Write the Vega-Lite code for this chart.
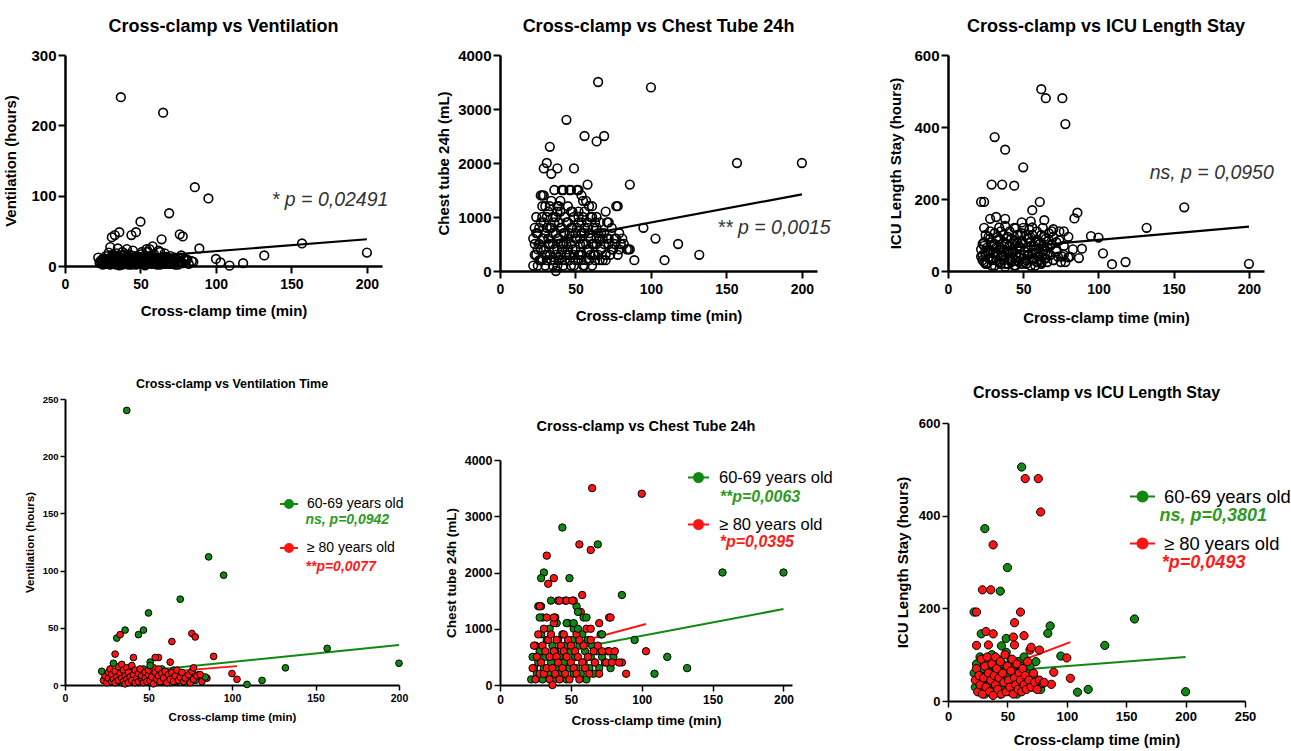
{
"$schema":"https://vega.github.io/schema/vega-lite/v6.json",
"autosize":{"type":"none"},
"padding":{"left":65,"top":55,"right":1226,"bottom":696},
"background":"white",
"config":{
 "font":"Liberation Sans",
 "view":{"stroke":null},
 "axis":{"grid":false,"domainColor":"black","tickColor":"black","labelColor":"black","titleColor":"black","labelFont":"Liberation Sans","titleFont":"Liberation Sans","labelFontWeight":"bold","titleFontWeight":"bold","labelFlush":false,"labelOverlap":false},
 "title":{"font":"Liberation Sans","fontWeight":"bold","color":"black","anchor":"middle","frame":"group"},
 "legend":{"labelFont":"Liberation Sans","labelColor":"black","symbolStrokeWidth":2,"symbolOpacity":1}
},
"datasets":{
"fits":[
{"panel":"vent_all","group":"all","clamp":22,"value":8},{"panel":"vent_all","group":"all","clamp":200,"value":38},
{"panel":"chest_all","group":"all","clamp":22,"value":490},{"panel":"chest_all","group":"all","clamp":200,"value":1420},
{"panel":"icu_all","group":"all","clamp":22,"value":58},{"panel":"icu_all","group":"all","clamp":200,"value":123},
{"panel":"vent_age","group":"60-69 years old","clamp":22,"value":8.6},{"panel":"vent_age","group":"60-69 years old","clamp":200,"value":35},
{"panel":"vent_age","group":"≥ 80 years old","clamp":22,"value":7},{"panel":"vent_age","group":"≥ 80 years old","clamp":103,"value":16.5},
{"panel":"chest_age","group":"60-69 years old","clamp":22,"value":504},{"panel":"chest_age","group":"60-69 years old","clamp":200,"value":1350},
{"panel":"chest_age","group":"≥ 80 years old","clamp":22,"value":540},{"panel":"chest_age","group":"≥ 80 years old","clamp":103,"value":1084},
{"panel":"icu_age","group":"60-69 years old","clamp":22,"value":60},{"panel":"icu_age","group":"60-69 years old","clamp":200,"value":95},
{"panel":"icu_age","group":"≥ 80 years old","clamp":22,"value":49},{"panel":"icu_age","group":"≥ 80 years old","clamp":103,"value":127}
],
"vent":[
{"clamp":23,"value":6,"group":"70-79 years old"},{"clamp":25,"value":10,"group":"70-79 years old"},{"clamp":27,"value":4,"group":"70-79 years old"},{"clamp":29,"value":8,"group":"70-79 years old"},{"clamp":31,"value":13,"group":"70-79 years old"},{"clamp":33,"value":5,"group":"70-79 years old"},{"clamp":35,"value":9,"group":"70-79 years old"},{"clamp":37,"value":3,"group":"70-79 years old"},{"clamp":39,"value":11,"group":"70-79 years old"},{"clamp":41,"value":6,"group":"70-79 years old"},{"clamp":43,"value":16,"group":"70-79 years old"},{"clamp":45,"value":4,"group":"70-79 years old"},{"clamp":47,"value":9,"group":"70-79 years old"},{"clamp":49,"value":12,"group":"70-79 years old"},{"clamp":51,"value":6,"group":"70-79 years old"},{"clamp":53,"value":3,"group":"70-79 years old"},{"clamp":55,"value":10,"group":"70-79 years old"},{"clamp":57,"value":7,"group":"70-79 years old"},{"clamp":59,"value":17,"group":"70-79 years old"},{"clamp":61,"value":4,"group":"70-79 years old"},{"clamp":63,"value":9,"group":"70-79 years old"},{"clamp":65,"value":6,"group":"70-79 years old"},{"clamp":67,"value":11,"group":"70-79 years old"},{"clamp":69,"value":3,"group":"70-79 years old"},{"clamp":71,"value":8,"group":"70-79 years old"},{"clamp":73,"value":12,"group":"70-79 years old"},{"clamp":76,"value":7,"group":"70-79 years old"},{"clamp":79,"value":10,"group":"70-79 years old"},{"clamp":45,"value":22,"group":"70-79 years old"},{"clamp":58,"value":28,"group":"70-79 years old"},{"clamp":38,"value":20,"group":"70-79 years old"},{"clamp":66,"value":18,"group":"70-79 years old"},{"clamp":70,"value":14,"group":"70-79 years old"},{"clamp":55,"value":20,"group":"70-79 years old"},{"clamp":35,"value":25,"group":"70-79 years old"},{"clamp":62,"value":22,"group":"70-79 years old"},{"clamp":65,"value":218,"group":"70-79 years old"},
{"clamp":24,"value":5,"group":"60-69 years old"},{"clamp":25,"value":9,"group":"60-69 years old"},{"clamp":27,"value":3,"group":"60-69 years old"},{"clamp":28,"value":7,"group":"60-69 years old"},{"clamp":30,"value":11,"group":"60-69 years old"},{"clamp":31,"value":4,"group":"60-69 years old"},{"clamp":32,"value":8,"group":"60-69 years old"},{"clamp":33,"value":13,"group":"60-69 years old"},{"clamp":34,"value":2,"group":"60-69 years old"},{"clamp":35,"value":6,"group":"60-69 years old"},{"clamp":36,"value":10,"group":"60-69 years old"},{"clamp":38,"value":3,"group":"60-69 years old"},{"clamp":39,"value":15,"group":"60-69 years old"},{"clamp":40,"value":7,"group":"60-69 years old"},{"clamp":41,"value":12,"group":"60-69 years old"},{"clamp":42,"value":4,"group":"60-69 years old"},{"clamp":43,"value":9,"group":"60-69 years old"},{"clamp":44,"value":2,"group":"60-69 years old"},{"clamp":45,"value":6,"group":"60-69 years old"},{"clamp":46,"value":11,"group":"60-69 years old"},{"clamp":47,"value":14,"group":"60-69 years old"},{"clamp":48,"value":3,"group":"60-69 years old"},{"clamp":49,"value":8,"group":"60-69 years old"},{"clamp":50,"value":5,"group":"60-69 years old"},
{"clamp":52,"value":10,"group":"60-69 years old"},{"clamp":53,"value":2,"group":"60-69 years old"},{"clamp":54,"value":7,"group":"60-69 years old"},{"clamp":55,"value":12,"group":"60-69 years old"},{"clamp":56,"value":4,"group":"60-69 years old"},{"clamp":57,"value":9,"group":"60-69 years old"},{"clamp":58,"value":14,"group":"60-69 years old"},{"clamp":59,"value":3,"group":"60-69 years old"},{"clamp":60,"value":6,"group":"60-69 years old"},{"clamp":61,"value":11,"group":"60-69 years old"},{"clamp":62,"value":8,"group":"60-69 years old"},{"clamp":63,"value":2,"group":"60-69 years old"},{"clamp":64,"value":5,"group":"60-69 years old"},{"clamp":65,"value":13,"group":"60-69 years old"},{"clamp":66,"value":7,"group":"60-69 years old"},{"clamp":67,"value":3,"group":"60-69 years old"},{"clamp":68,"value":10,"group":"60-69 years old"},{"clamp":70,"value":5,"group":"60-69 years old"},{"clamp":72,"value":8,"group":"60-69 years old"},{"clamp":73,"value":2,"group":"60-69 years old"},{"clamp":75,"value":6,"group":"60-69 years old"},{"clamp":78,"value":4,"group":"60-69 years old"},{"clamp":80,"value":9,"group":"60-69 years old"},
{"clamp":23,"value":4,"group":"≥ 80 years old"},{"clamp":24,"value":8,"group":"≥ 80 years old"},{"clamp":25,"value":2,"group":"≥ 80 years old"},{"clamp":26,"value":6,"group":"≥ 80 years old"},{"clamp":26,"value":11,"group":"≥ 80 years old"},{"clamp":27,"value":14,"group":"≥ 80 years old"},{"clamp":28,"value":3,"group":"≥ 80 years old"},{"clamp":28,"value":9,"group":"≥ 80 years old"},{"clamp":29,"value":5,"group":"≥ 80 years old"},{"clamp":30,"value":12,"group":"≥ 80 years old"},{"clamp":30,"value":2,"group":"≥ 80 years old"},{"clamp":31,"value":7,"group":"≥ 80 years old"},{"clamp":32,"value":16,"group":"≥ 80 years old"},{"clamp":32,"value":4,"group":"≥ 80 years old"},{"clamp":33,"value":10,"group":"≥ 80 years old"},{"clamp":34,"value":6,"group":"≥ 80 years old"},{"clamp":34,"value":18,"group":"≥ 80 years old"},{"clamp":35,"value":3,"group":"≥ 80 years old"},{"clamp":35,"value":13,"group":"≥ 80 years old"},{"clamp":36,"value":8,"group":"≥ 80 years old"},{"clamp":36,"value":1,"group":"≥ 80 years old"},{"clamp":37,"value":15,"group":"≥ 80 years old"},{"clamp":37,"value":5,"group":"≥ 80 years old"},{"clamp":38,"value":11,"group":"≥ 80 years old"},{"clamp":38,"value":2,"group":"≥ 80 years old"},{"clamp":39,"value":7,"group":"≥ 80 years old"},{"clamp":40,"value":4,"group":"≥ 80 years old"},{"clamp":40,"value":17,"group":"≥ 80 years old"},{"clamp":41,"value":9,"group":"≥ 80 years old"},{"clamp":42,"value":2,"group":"≥ 80 years old"},{"clamp":42,"value":13,"group":"≥ 80 years old"},{"clamp":43,"value":6,"group":"≥ 80 years old"},{"clamp":44,"value":10,"group":"≥ 80 years old"},{"clamp":44,"value":3,"group":"≥ 80 years old"},{"clamp":45,"value":14,"group":"≥ 80 years old"},{"clamp":46,"value":5,"group":"≥ 80 years old"},
{"clamp":46,"value":8,"group":"≥ 80 years old"},{"clamp":47,"value":2,"group":"≥ 80 years old"},{"clamp":48,"value":11,"group":"≥ 80 years old"},{"clamp":48,"value":6,"group":"≥ 80 years old"},{"clamp":49,"value":3,"group":"≥ 80 years old"},{"clamp":50,"value":9,"group":"≥ 80 years old"},{"clamp":50,"value":13,"group":"≥ 80 years old"},{"clamp":51,"value":4,"group":"≥ 80 years old"},{"clamp":52,"value":7,"group":"≥ 80 years old"},{"clamp":53,"value":15,"group":"≥ 80 years old"},{"clamp":53,"value":1,"group":"≥ 80 years old"},{"clamp":54,"value":11,"group":"≥ 80 years old"},{"clamp":55,"value":5,"group":"≥ 80 years old"},{"clamp":56,"value":8,"group":"≥ 80 years old"},{"clamp":56,"value":14,"group":"≥ 80 years old"},{"clamp":57,"value":3,"group":"≥ 80 years old"},{"clamp":58,"value":10,"group":"≥ 80 years old"},{"clamp":59,"value":6,"group":"≥ 80 years old"},{"clamp":60,"value":12,"group":"≥ 80 years old"},{"clamp":61,"value":2,"group":"≥ 80 years old"},{"clamp":62,"value":9,"group":"≥ 80 years old"},{"clamp":63,"value":5,"group":"≥ 80 years old"},{"clamp":64,"value":11,"group":"≥ 80 years old"},{"clamp":65,"value":3,"group":"≥ 80 years old"},{"clamp":66,"value":8,"group":"≥ 80 years old"},{"clamp":67,"value":13,"group":"≥ 80 years old"},{"clamp":68,"value":4,"group":"≥ 80 years old"},{"clamp":69,"value":7,"group":"≥ 80 years old"},{"clamp":70,"value":11,"group":"≥ 80 years old"},{"clamp":71,"value":3,"group":"≥ 80 years old"},{"clamp":72,"value":6,"group":"≥ 80 years old"},{"clamp":74,"value":9,"group":"≥ 80 years old"},{"clamp":75,"value":2,"group":"≥ 80 years old"},{"clamp":76,"value":12,"group":"≥ 80 years old"},{"clamp":77,"value":5,"group":"≥ 80 years old"},{"clamp":79,"value":8,"group":"≥ 80 years old"},{"clamp":82,"value":3,"group":"≥ 80 years old"},{"clamp":85,"value":6,"group":"≥ 80 years old"},
{"clamp":37,"value":240,"group":"60-69 years old"},{"clamp":86,"value":112,"group":"60-69 years old"},{"clamp":95,"value":96,"group":"60-69 years old"},{"clamp":69,"value":75,"group":"60-69 years old"},{"clamp":50,"value":63,"group":"60-69 years old"},{"clamp":36,"value":48,"group":"60-69 years old"},{"clamp":31,"value":41,"group":"60-69 years old"},{"clamp":47,"value":48,"group":"60-69 years old"},{"clamp":44,"value":44,"group":"60-69 years old"},{"clamp":51,"value":20,"group":"60-69 years old"},{"clamp":51,"value":17,"group":"60-69 years old"},{"clamp":29,"value":19,"group":"60-69 years old"},{"clamp":22,"value":12,"group":"60-69 years old"},{"clamp":132,"value":15,"group":"60-69 years old"},{"clamp":157,"value":32,"group":"60-69 years old"},{"clamp":109,"value":0.5,"group":"60-69 years old"},{"clamp":118,"value":4,"group":"60-69 years old"},{"clamp":84,"value":7,"group":"60-69 years old"},{"clamp":200,"value":19,"group":"60-69 years old"},
{"clamp":33,"value":44,"group":"≥ 80 years old"},{"clamp":76,"value":45,"group":"≥ 80 years old"},{"clamp":78,"value":42,"group":"≥ 80 years old"},{"clamp":64,"value":38,"group":"≥ 80 years old"},{"clamp":89,"value":25,"group":"≥ 80 years old"},{"clamp":30,"value":27,"group":"≥ 80 years old"},{"clamp":41,"value":24,"group":"≥ 80 years old"},{"clamp":56,"value":24,"group":"≥ 80 years old"},{"clamp":54,"value":24,"group":"≥ 80 years old"},{"clamp":63,"value":20,"group":"≥ 80 years old"},{"clamp":77,"value":15,"group":"≥ 80 years old"},{"clamp":100,"value":10,"group":"≥ 80 years old"},{"clamp":103,"value":5,"group":"≥ 80 years old"},{"clamp":81,"value":9,"group":"≥ 80 years old"}
],
"chest":[
{"clamp":22,"value":600,"group":"70-79 years old"},{"clamp":23,"value":800,"group":"70-79 years old"},{"clamp":24,"value":1000,"group":"70-79 years old"},{"clamp":25,"value":400,"group":"70-79 years old"},{"clamp":26,"value":800,"group":"70-79 years old"},{"clamp":27,"value":200,"group":"70-79 years old"},{"clamp":28,"value":1000,"group":"70-79 years old"},{"clamp":29,"value":600,"group":"70-79 years old"},{"clamp":30,"value":300,"group":"70-79 years old"},{"clamp":31,"value":800,"group":"70-79 years old"},{"clamp":32,"value":1100,"group":"70-79 years old"},{"clamp":33,"value":500,"group":"70-79 years old"},{"clamp":34,"value":1300,"group":"70-79 years old"},{"clamp":35,"value":700,"group":"70-79 years old"},{"clamp":36,"value":200,"group":"70-79 years old"},{"clamp":37,"value":1000,"group":"70-79 years old"},{"clamp":38,"value":400,"group":"70-79 years old"},{"clamp":39,"value":900,"group":"70-79 years old"},{"clamp":40,"value":1300,"group":"70-79 years old"},{"clamp":41,"value":200,"group":"70-79 years old"},{"clamp":42,"value":700,"group":"70-79 years old"},{"clamp":43,"value":1000,"group":"70-79 years old"},{"clamp":44,"value":500,"group":"70-79 years old"},{"clamp":45,"value":1200,"group":"70-79 years old"},{"clamp":46,"value":300,"group":"70-79 years old"},{"clamp":47,"value":800,"group":"70-79 years old"},{"clamp":48,"value":400,"group":"70-79 years old"},{"clamp":49,"value":1000,"group":"70-79 years old"},{"clamp":50,"value":200,"group":"70-79 years old"},{"clamp":51,"value":600,"group":"70-79 years old"},{"clamp":52,"value":900,"group":"70-79 years old"},{"clamp":53,"value":300,"group":"70-79 years old"},{"clamp":54,"value":700,"group":"70-79 years old"},{"clamp":55,"value":100,"group":"70-79 years old"},{"clamp":56,"value":1100,"group":"70-79 years old"},{"clamp":57,"value":500,"group":"70-79 years old"},{"clamp":58,"value":800,"group":"70-79 years old"},{"clamp":59,"value":200,"group":"70-79 years old"},{"clamp":60,"value":1000,"group":"70-79 years old"},{"clamp":61,"value":500,"group":"70-79 years old"},{"clamp":62,"value":300,"group":"70-79 years old"},{"clamp":63,"value":900,"group":"70-79 years old"},{"clamp":64,"value":600,"group":"70-79 years old"},{"clamp":65,"value":300,"group":"70-79 years old"},{"clamp":66,"value":900,"group":"70-79 years old"},{"clamp":67,"value":700,"group":"70-79 years old"},{"clamp":68,"value":200,"group":"70-79 years old"},{"clamp":69,"value":500,"group":"70-79 years old"},{"clamp":71,"value":600,"group":"70-79 years old"},{"clamp":73,"value":300,"group":"70-79 years old"},{"clamp":74,"value":800,"group":"70-79 years old"},{"clamp":76,"value":500,"group":"70-79 years old"},{"clamp":79,"value":700,"group":"70-79 years old"},{"clamp":82,"value":500,"group":"70-79 years old"},{"clamp":85,"value":400,"group":"70-79 years old"},
{"clamp":22,"value":100,"group":"60-69 years old"},{"clamp":23,"value":500,"group":"60-69 years old"},{"clamp":24,"value":300,"group":"60-69 years old"},{"clamp":25,"value":700,"group":"60-69 years old"},{"clamp":26,"value":200,"group":"60-69 years old"},{"clamp":27,"value":400,"group":"60-69 years old"},{"clamp":28,"value":600,"group":"60-69 years old"},{"clamp":29,"value":900,"group":"60-69 years old"},{"clamp":30,"value":100,"group":"60-69 years old"},{"clamp":30,"value":1200,"group":"60-69 years old"},{"clamp":31,"value":300,"group":"60-69 years old"},{"clamp":32,"value":500,"group":"60-69 years old"},{"clamp":33,"value":800,"group":"60-69 years old"},{"clamp":34,"value":200,"group":"60-69 years old"},{"clamp":35,"value":1000,"group":"60-69 years old"},{"clamp":36,"value":400,"group":"60-69 years old"},{"clamp":37,"value":700,"group":"60-69 years old"},{"clamp":38,"value":100,"group":"60-69 years old"},{"clamp":39,"value":600,"group":"60-69 years old"},{"clamp":40,"value":300,"group":"60-69 years old"},{"clamp":40,"value":1100,"group":"60-69 years old"},{"clamp":41,"value":800,"group":"60-69 years old"},{"clamp":42,"value":500,"group":"60-69 years old"},{"clamp":43,"value":200,"group":"60-69 years old"},{"clamp":44,"value":900,"group":"60-69 years old"},{"clamp":45,"value":400,"group":"60-69 years old"},
{"clamp":46,"value":700,"group":"60-69 years old"},{"clamp":47,"value":100,"group":"60-69 years old"},{"clamp":48,"value":1100,"group":"60-69 years old"},{"clamp":49,"value":300,"group":"60-69 years old"},{"clamp":50,"value":600,"group":"60-69 years old"},{"clamp":51,"value":800,"group":"60-69 years old"},{"clamp":52,"value":200,"group":"60-69 years old"},{"clamp":52,"value":1000,"group":"60-69 years old"},{"clamp":53,"value":500,"group":"60-69 years old"},{"clamp":54,"value":300,"group":"60-69 years old"},{"clamp":56,"value":700,"group":"60-69 years old"},{"clamp":57,"value":200,"group":"60-69 years old"},{"clamp":58,"value":900,"group":"60-69 years old"},{"clamp":59,"value":400,"group":"60-69 years old"},{"clamp":60,"value":600,"group":"60-69 years old"},{"clamp":61,"value":100,"group":"60-69 years old"},{"clamp":62,"value":800,"group":"60-69 years old"},{"clamp":63,"value":300,"group":"60-69 years old"},{"clamp":64,"value":500,"group":"60-69 years old"},{"clamp":65,"value":700,"group":"60-69 years old"},{"clamp":66,"value":200,"group":"60-69 years old"},{"clamp":67,"value":400,"group":"60-69 years old"},{"clamp":68,"value":600,"group":"60-69 years old"},{"clamp":70,"value":300,"group":"60-69 years old"},{"clamp":71,"value":900,"group":"60-69 years old"},{"clamp":72,"value":500,"group":"60-69 years old"},{"clamp":74,"value":400,"group":"60-69 years old"},{"clamp":76,"value":600,"group":"60-69 years old"},{"clamp":78,"value":300,"group":"60-69 years old"},{"clamp":80,"value":500,"group":"60-69 years old"},
{"clamp":23,"value":300,"group":"≥ 80 years old"},{"clamp":24,"value":700,"group":"≥ 80 years old"},{"clamp":25,"value":100,"group":"≥ 80 years old"},{"clamp":26,"value":500,"group":"≥ 80 years old"},{"clamp":27,"value":900,"group":"≥ 80 years old"},{"clamp":28,"value":200,"group":"≥ 80 years old"},{"clamp":29,"value":400,"group":"≥ 80 years old"},{"clamp":30,"value":700,"group":"≥ 80 years old"},{"clamp":31,"value":200,"group":"≥ 80 years old"},{"clamp":31,"value":1000,"group":"≥ 80 years old"},{"clamp":32,"value":600,"group":"≥ 80 years old"},{"clamp":33,"value":300,"group":"≥ 80 years old"},{"clamp":33,"value":1200,"group":"≥ 80 years old"},{"clamp":34,"value":800,"group":"≥ 80 years old"},{"clamp":35,"value":100,"group":"≥ 80 years old"},{"clamp":35,"value":500,"group":"≥ 80 years old"},{"clamp":36,"value":900,"group":"≥ 80 years old"},{"clamp":37,"value":0,"group":"≥ 80 years old"},{"clamp":37,"value":300,"group":"≥ 80 years old"},{"clamp":38,"value":600,"group":"≥ 80 years old"},{"clamp":38,"value":1100,"group":"≥ 80 years old"},{"clamp":39,"value":200,"group":"≥ 80 years old"},{"clamp":40,"value":800,"group":"≥ 80 years old"},{"clamp":40,"value":500,"group":"≥ 80 years old"},{"clamp":41,"value":400,"group":"≥ 80 years old"},{"clamp":42,"value":100,"group":"≥ 80 years old"},{"clamp":43,"value":700,"group":"≥ 80 years old"},{"clamp":44,"value":300,"group":"≥ 80 years old"},{"clamp":45,"value":900,"group":"≥ 80 years old"},{"clamp":45,"value":600,"group":"≥ 80 years old"},
{"clamp":46,"value":200,"group":"≥ 80 years old"},{"clamp":47,"value":500,"group":"≥ 80 years old"},{"clamp":48,"value":800,"group":"≥ 80 years old"},{"clamp":49,"value":100,"group":"≥ 80 years old"},{"clamp":50,"value":400,"group":"≥ 80 years old"},{"clamp":50,"value":700,"group":"≥ 80 years old"},{"clamp":52,"value":300,"group":"≥ 80 years old"},{"clamp":53,"value":600,"group":"≥ 80 years old"},{"clamp":54,"value":900,"group":"≥ 80 years old"},{"clamp":54,"value":200,"group":"≥ 80 years old"},{"clamp":55,"value":500,"group":"≥ 80 years old"},{"clamp":56,"value":100,"group":"≥ 80 years old"},{"clamp":56,"value":800,"group":"≥ 80 years old"},{"clamp":57,"value":1300,"group":"≥ 80 years old"},{"clamp":58,"value":400,"group":"≥ 80 years old"},{"clamp":59,"value":700,"group":"≥ 80 years old"},{"clamp":60,"value":300,"group":"≥ 80 years old"},{"clamp":61,"value":1000,"group":"≥ 80 years old"},{"clamp":62,"value":500,"group":"≥ 80 years old"},{"clamp":63,"value":200,"group":"≥ 80 years old"},{"clamp":64,"value":800,"group":"≥ 80 years old"},{"clamp":66,"value":600,"group":"≥ 80 years old"},{"clamp":67,"value":400,"group":"≥ 80 years old"},{"clamp":69,"value":700,"group":"≥ 80 years old"},{"clamp":70,"value":200,"group":"≥ 80 years old"},{"clamp":72,"value":600,"group":"≥ 80 years old"},{"clamp":75,"value":400,"group":"≥ 80 years old"},{"clamp":77,"value":600,"group":"≥ 80 years old"},{"clamp":79,"value":400,"group":"≥ 80 years old"},{"clamp":81,"value":600,"group":"≥ 80 years old"},
{"clamp":44,"value":2800,"group":"60-69 years old"},{"clamp":69,"value":2500,"group":"60-69 years old"},{"clamp":31,"value":2000,"group":"60-69 years old"},{"clamp":29,"value":1900,"group":"60-69 years old"},{"clamp":49,"value":1900,"group":"60-69 years old"},{"clamp":86,"value":1600,"group":"60-69 years old"},{"clamp":36,"value":1500,"group":"60-69 years old"},{"clamp":27,"value":1400,"group":"60-69 years old"},{"clamp":29,"value":1400,"group":"60-69 years old"},{"clamp":54,"value":1400,"group":"60-69 years old"},{"clamp":55,"value":1300,"group":"60-69 years old"},{"clamp":59,"value":1200,"group":"60-69 years old"},{"clamp":61,"value":1200,"group":"60-69 years old"},{"clamp":28,"value":1200,"group":"60-69 years old"},{"clamp":39,"value":1200,"group":"60-69 years old"},{"clamp":47,"value":1100,"group":"60-69 years old"},{"clamp":52,"value":1100,"group":"60-69 years old"},{"clamp":55,"value":1000,"group":"60-69 years old"},{"clamp":72,"value":900,"group":"60-69 years old"},{"clamp":95,"value":800,"group":"60-69 years old"},{"clamp":118,"value":500,"group":"60-69 years old"},{"clamp":132,"value":300,"group":"60-69 years old"},{"clamp":109,"value":200,"group":"60-69 years old"},{"clamp":157,"value":2000,"group":"60-69 years old"},{"clamp":200,"value":2000,"group":"60-69 years old"},
{"clamp":65,"value":3500,"group":"≥ 80 years old"},{"clamp":100,"value":3400,"group":"≥ 80 years old"},{"clamp":56,"value":2500,"group":"≥ 80 years old"},{"clamp":64,"value":2400,"group":"≥ 80 years old"},{"clamp":33,"value":2300,"group":"≥ 80 years old"},{"clamp":38,"value":1900,"group":"≥ 80 years old"},{"clamp":34,"value":1800,"group":"≥ 80 years old"},{"clamp":58,"value":1600,"group":"≥ 80 years old"},{"clamp":41,"value":1500,"group":"≥ 80 years old"},{"clamp":46,"value":1500,"group":"≥ 80 years old"},{"clamp":52,"value":1500,"group":"≥ 80 years old"},{"clamp":28,"value":1400,"group":"≥ 80 years old"},{"clamp":38,"value":1200,"group":"≥ 80 years old"},{"clamp":77,"value":1200,"group":"≥ 80 years old"},{"clamp":78,"value":1200,"group":"≥ 80 years old"},{"clamp":70,"value":1100,"group":"≥ 80 years old"},{"clamp":64,"value":1000,"group":"≥ 80 years old"},{"clamp":103,"value":600,"group":"≥ 80 years old"},{"clamp":89,"value":200,"group":"≥ 80 years old"},{"clamp":86,"value":400,"group":"≥ 80 years old"},{"clamp":84,"value":400,"group":"≥ 80 years old"},{"clamp":42,"value":1500,"group":"≥ 80 years old"},{"clamp":47,"value":1500,"group":"≥ 80 years old"},{"clamp":51,"value":1500,"group":"≥ 80 years old"}
],
"icu":[
{"clamp":22,"value":40,"group":"70-79 years old"},{"clamp":23,"value":75,"group":"70-79 years old"},{"clamp":24,"value":25,"group":"70-79 years old"},{"clamp":25,"value":100,"group":"70-79 years old"},{"clamp":26,"value":65,"group":"70-79 years old"},{"clamp":27,"value":50,"group":"70-79 years old"},{"clamp":28,"value":110,"group":"70-79 years old"},{"clamp":29,"value":80,"group":"70-79 years old"},{"clamp":30,"value":30,"group":"70-79 years old"},{"clamp":31,"value":105,"group":"70-79 years old"},{"clamp":32,"value":65,"group":"70-79 years old"},{"clamp":33,"value":40,"group":"70-79 years old"},{"clamp":34,"value":90,"group":"70-79 years old"},{"clamp":35,"value":110,"group":"70-79 years old"},{"clamp":36,"value":60,"group":"70-79 years old"},{"clamp":37,"value":30,"group":"70-79 years old"},{"clamp":38,"value":125,"group":"70-79 years old"},{"clamp":39,"value":90,"group":"70-79 years old"},{"clamp":40,"value":20,"group":"70-79 years old"},{"clamp":41,"value":110,"group":"70-79 years old"},{"clamp":42,"value":55,"group":"70-79 years old"},{"clamp":43,"value":75,"group":"70-79 years old"},{"clamp":44,"value":120,"group":"70-79 years old"},{"clamp":45,"value":30,"group":"70-79 years old"},{"clamp":46,"value":100,"group":"70-79 years old"},{"clamp":47,"value":70,"group":"70-79 years old"},{"clamp":48,"value":45,"group":"70-79 years old"},{"clamp":49,"value":85,"group":"70-79 years old"},{"clamp":50,"value":120,"group":"70-79 years old"},{"clamp":51,"value":25,"group":"70-79 years old"},{"clamp":52,"value":100,"group":"70-79 years old"},{"clamp":53,"value":45,"group":"70-79 years old"},{"clamp":54,"value":115,"group":"70-79 years old"},{"clamp":55,"value":80,"group":"70-79 years old"},{"clamp":56,"value":100,"group":"70-79 years old"},{"clamp":57,"value":70,"group":"70-79 years old"},{"clamp":58,"value":50,"group":"70-79 years old"},{"clamp":59,"value":110,"group":"70-79 years old"},{"clamp":60,"value":80,"group":"70-79 years old"},{"clamp":61,"value":30,"group":"70-79 years old"},{"clamp":62,"value":100,"group":"70-79 years old"},{"clamp":63,"value":120,"group":"70-79 years old"},{"clamp":64,"value":60,"group":"70-79 years old"},{"clamp":65,"value":90,"group":"70-79 years old"},{"clamp":66,"value":45,"group":"70-79 years old"},{"clamp":67,"value":105,"group":"70-79 years old"},{"clamp":68,"value":70,"group":"70-79 years old"},{"clamp":70,"value":95,"group":"70-79 years old"},{"clamp":72,"value":80,"group":"70-79 years old"},{"clamp":74,"value":110,"group":"70-79 years old"},{"clamp":77,"value":70,"group":"70-79 years old"},{"clamp":80,"value":95,"group":"70-79 years old"},{"clamp":83,"value":60,"group":"70-79 years old"},
{"clamp":22,"value":60,"group":"60-69 years old"},{"clamp":23,"value":30,"group":"60-69 years old"},{"clamp":24,"value":80,"group":"60-69 years old"},{"clamp":25,"value":45,"group":"60-69 years old"},{"clamp":26,"value":20,"group":"60-69 years old"},{"clamp":27,"value":95,"group":"60-69 years old"},{"clamp":28,"value":55,"group":"60-69 years old"},{"clamp":29,"value":35,"group":"60-69 years old"},{"clamp":30,"value":70,"group":"60-69 years old"},{"clamp":31,"value":15,"group":"60-69 years old"},{"clamp":32,"value":50,"group":"60-69 years old"},{"clamp":33,"value":85,"group":"60-69 years old"},{"clamp":34,"value":25,"group":"60-69 years old"},{"clamp":35,"value":65,"group":"60-69 years old"},{"clamp":36,"value":40,"group":"60-69 years old"},{"clamp":37,"value":100,"group":"60-69 years old"},{"clamp":38,"value":20,"group":"60-69 years old"},{"clamp":39,"value":75,"group":"60-69 years old"},{"clamp":40,"value":50,"group":"60-69 years old"},{"clamp":41,"value":30,"group":"60-69 years old"},{"clamp":42,"value":90,"group":"60-69 years old"},{"clamp":43,"value":60,"group":"60-69 years old"},{"clamp":44,"value":15,"group":"60-69 years old"},{"clamp":45,"value":45,"group":"60-69 years old"},{"clamp":46,"value":80,"group":"60-69 years old"},{"clamp":47,"value":25,"group":"60-69 years old"},{"clamp":48,"value":65,"group":"60-69 years old"},
{"clamp":49,"value":105,"group":"60-69 years old"},{"clamp":50,"value":35,"group":"60-69 years old"},{"clamp":51,"value":55,"group":"60-69 years old"},{"clamp":52,"value":20,"group":"60-69 years old"},{"clamp":53,"value":90,"group":"60-69 years old"},{"clamp":54,"value":45,"group":"60-69 years old"},{"clamp":55,"value":70,"group":"60-69 years old"},{"clamp":56,"value":30,"group":"60-69 years old"},{"clamp":57,"value":60,"group":"60-69 years old"},{"clamp":58,"value":15,"group":"60-69 years old"},{"clamp":59,"value":85,"group":"60-69 years old"},{"clamp":60,"value":40,"group":"60-69 years old"},{"clamp":61,"value":75,"group":"60-69 years old"},{"clamp":62,"value":25,"group":"60-69 years old"},{"clamp":63,"value":55,"group":"60-69 years old"},{"clamp":64,"value":95,"group":"60-69 years old"},{"clamp":65,"value":35,"group":"60-69 years old"},{"clamp":66,"value":65,"group":"60-69 years old"},{"clamp":68,"value":45,"group":"60-69 years old"},{"clamp":69,"value":75,"group":"60-69 years old"},{"clamp":70,"value":30,"group":"60-69 years old"},{"clamp":72,"value":55,"group":"60-69 years old"},{"clamp":74,"value":85,"group":"60-69 years old"},{"clamp":76,"value":40,"group":"60-69 years old"},{"clamp":78,"value":25,"group":"60-69 years old"},
{"clamp":23,"value":45,"group":"≥ 80 years old"},{"clamp":24,"value":70,"group":"≥ 80 years old"},{"clamp":25,"value":20,"group":"≥ 80 years old"},{"clamp":26,"value":55,"group":"≥ 80 years old"},{"clamp":27,"value":35,"group":"≥ 80 years old"},{"clamp":28,"value":90,"group":"≥ 80 years old"},{"clamp":29,"value":15,"group":"≥ 80 years old"},{"clamp":30,"value":50,"group":"≥ 80 years old"},{"clamp":31,"value":75,"group":"≥ 80 years old"},{"clamp":32,"value":30,"group":"≥ 80 years old"},{"clamp":33,"value":95,"group":"≥ 80 years old"},{"clamp":34,"value":60,"group":"≥ 80 years old"},{"clamp":35,"value":20,"group":"≥ 80 years old"},{"clamp":36,"value":45,"group":"≥ 80 years old"},{"clamp":37,"value":80,"group":"≥ 80 years old"},{"clamp":38,"value":12,"group":"≥ 80 years old"},{"clamp":39,"value":55,"group":"≥ 80 years old"},{"clamp":40,"value":35,"group":"≥ 80 years old"},{"clamp":40,"value":95,"group":"≥ 80 years old"},{"clamp":41,"value":70,"group":"≥ 80 years old"},{"clamp":42,"value":25,"group":"≥ 80 years old"},{"clamp":43,"value":50,"group":"≥ 80 years old"},{"clamp":44,"value":85,"group":"≥ 80 years old"},{"clamp":45,"value":15,"group":"≥ 80 years old"},{"clamp":46,"value":60,"group":"≥ 80 years old"},{"clamp":47,"value":40,"group":"≥ 80 years old"},{"clamp":48,"value":100,"group":"≥ 80 years old"},
{"clamp":49,"value":20,"group":"≥ 80 years old"},{"clamp":50,"value":75,"group":"≥ 80 years old"},{"clamp":51,"value":45,"group":"≥ 80 years old"},{"clamp":52,"value":30,"group":"≥ 80 years old"},{"clamp":53,"value":65,"group":"≥ 80 years old"},{"clamp":54,"value":90,"group":"≥ 80 years old"},{"clamp":55,"value":15,"group":"≥ 80 years old"},{"clamp":56,"value":50,"group":"≥ 80 years old"},{"clamp":57,"value":35,"group":"≥ 80 years old"},{"clamp":58,"value":80,"group":"≥ 80 years old"},{"clamp":59,"value":25,"group":"≥ 80 years old"},{"clamp":60,"value":60,"group":"≥ 80 years old"},{"clamp":61,"value":45,"group":"≥ 80 years old"},{"clamp":62,"value":20,"group":"≥ 80 years old"},{"clamp":63,"value":70,"group":"≥ 80 years old"},{"clamp":64,"value":35,"group":"≥ 80 years old"},{"clamp":65,"value":55,"group":"≥ 80 years old"},{"clamp":66,"value":25,"group":"≥ 80 years old"},{"clamp":67,"value":85,"group":"≥ 80 years old"},{"clamp":68,"value":45,"group":"≥ 80 years old"},{"clamp":69,"value":110,"group":"≥ 80 years old"},{"clamp":70,"value":30,"group":"≥ 80 years old"},{"clamp":72,"value":60,"group":"≥ 80 years old"},{"clamp":73,"value":40,"group":"≥ 80 years old"},{"clamp":75,"value":25,"group":"≥ 80 years old"},{"clamp":77,"value":45,"group":"≥ 80 years old"},{"clamp":80,"value":38,"group":"≥ 80 years old"},{"clamp":87,"value":36,"group":"≥ 80 years old"},{"clamp":81,"value":40,"group":"≥ 80 years old"},
{"clamp":62,"value":505,"group":"60-69 years old"},{"clamp":31,"value":372,"group":"60-69 years old"},{"clamp":50,"value":288,"group":"60-69 years old"},{"clamp":44,"value":237,"group":"60-69 years old"},{"clamp":22,"value":192,"group":"60-69 years old"},{"clamp":86,"value":162,"group":"60-69 years old"},{"clamp":84,"value":146,"group":"60-69 years old"},{"clamp":28,"value":145,"group":"60-69 years old"},{"clamp":49,"value":135,"group":"60-69 years old"},{"clamp":45,"value":119,"group":"60-69 years old"},{"clamp":132,"value":120,"group":"60-69 years old"},{"clamp":157,"value":177,"group":"60-69 years old"},{"clamp":95,"value":97,"group":"60-69 years old"},{"clamp":109,"value":19,"group":"60-69 years old"},{"clamp":118,"value":25,"group":"60-69 years old"},{"clamp":200,"value":20,"group":"60-69 years old"},
{"clamp":65,"value":480,"group":"≥ 80 years old"},{"clamp":76,"value":480,"group":"≥ 80 years old"},{"clamp":78,"value":408,"group":"≥ 80 years old"},{"clamp":38,"value":337,"group":"≥ 80 years old"},{"clamp":29,"value":240,"group":"≥ 80 years old"},{"clamp":36,"value":240,"group":"≥ 80 years old"},{"clamp":24,"value":192,"group":"≥ 80 years old"},{"clamp":61,"value":192,"group":"≥ 80 years old"},{"clamp":56,"value":169,"group":"≥ 80 years old"},{"clamp":32,"value":150,"group":"≥ 80 years old"},{"clamp":38,"value":145,"group":"≥ 80 years old"},{"clamp":24,"value":120,"group":"≥ 80 years old"},{"clamp":34,"value":121,"group":"≥ 80 years old"},{"clamp":55,"value":138,"group":"≥ 80 years old"},{"clamp":64,"value":141,"group":"≥ 80 years old"},{"clamp":56,"value":121,"group":"≥ 80 years old"},{"clamp":77,"value":110,"group":"≥ 80 years old"},{"clamp":70,"value":116,"group":"≥ 80 years old"},{"clamp":100,"value":93,"group":"≥ 80 years old"},{"clamp":103,"value":49,"group":"≥ 80 years old"},{"clamp":89,"value":62,"group":"≥ 80 years old"}
]
},
"bounds":"full",
"spacing":28,
"resolve":{"scale":{"fill":"independent","stroke":"independent"},"legend":{"fill":"independent","stroke":"independent"}},
"hconcat":[
{"vconcat":[
 {"width":317,"height":211,
  "title":{"text":"Cross-clamp vs Ventilation","fontSize":18,"offset":12},
  "layer":[
   {"data":{"name":"fits"},"transform":[{"filter":"datum.panel === 'vent_all'"}],"mark":{"type":"line","color":"black","strokeWidth":2.2},
    "encoding":{
     "x":{"field":"clamp","type":"quantitative","scale":{"domain":[0,210],"nice":false,"zero":false},"axis":{"values":[0,50,100,150,200],"title":"Cross-clamp time (min)","labelFontSize":14,"titleFontSize":15,"tickSize":7,"tickWidth":2,"domainWidth":2.5,"labelPadding":4,"titlePadding":12}},
     "y":{"field":"value","type":"quantitative","scale":{"domain":[0,300],"nice":false},"axis":{"values":[0,100,200,300],"title":"Ventilation (hours)","labelFontSize":15,"titleFontSize":15,"tickSize":7,"tickWidth":2,"domainWidth":2.5,"labelPadding":2,"titlePadding":12}}}},
   {"data":{"name":"vent"},"mark":{"type":"point","filled":false,"color":"black","strokeWidth":1.6,"size":75,"opacity":1},
    "encoding":{"x":{"field":"clamp","type":"quantitative"},"y":{"field":"value","type":"quantitative"}}},
   {"data":{"values":[{"note":"* p = 0,02491"}]},"mark":{"type":"text","align":"left","baseline":"middle","fontSize":19.5,"fontStyle":"italic","color":"#333333"},
    "encoding":{"x":{"datum":137,"type":"quantitative"},"y":{"datum":94,"type":"quantitative"},"text":{"field":"note","type":"nominal"}}}
  ]},
 {"width":334,"height":286,
  "title":{"text":"Cross-clamp vs Ventilation Time","fontSize":12.5,"offset":4},
  "layer":[
   {"data":{"name":"fits"},"transform":[{"filter":"datum.panel === 'vent_age'"}],"mark":{"type":"line","strokeWidth":2},
    "encoding":{
     "x":{"field":"clamp","type":"quantitative","scale":{"domain":[0,200],"nice":false,"zero":false},"axis":{"values":[0,50,100,150,200],"title":"Cross-clamp time (min)","labelFontSize":10.5,"titleFontSize":11.5,"tickSize":5,"tickWidth":1.5,"domainWidth":2,"labelPadding":3,"titlePadding":8}},
     "y":{"field":"value","type":"quantitative","scale":{"domain":[0,250],"nice":false},"axis":{"values":[0,50,100,150,200,250],"title":"Ventilation (hours)","labelFontSize":9.5,"titleFontSize":11.5,"tickSize":5,"tickWidth":1.5,"domainWidth":2,"labelPadding":2,"titlePadding":7}},
     "stroke":{"field":"group","type":"nominal","scale":{"domain":["60-69 years old","≥ 80 years old"],"range":["#118811","#ff1414"]},"legend":{"title":null,"orient":"none","legendX":214,"legendY":95,"symbolType":"M-1,0H-0.44M0.44,0H1M0.44,0A0.44,0.44,0,1,1,-0.44,0A0.44,0.44,0,1,1,0.44,0Z","symbolSize":324,"labelFontSize":14,"labelOffset":8,"rowPadding":26}}}},
   {"data":{"name":"vent"},"transform":[{"filter":{"field":"group","oneOf":["60-69 years old","≥ 80 years old"]}}],"mark":{"type":"point","filled":true,"stroke":"black","strokeWidth":1,"size":45,"opacity":1},
    "encoding":{"x":{"field":"clamp","type":"quantitative"},"y":{"field":"value","type":"quantitative"},
     "fill":{"field":"group","type":"nominal","scale":{"domain":["60-69 years old","≥ 80 years old"],"range":["#118811","#ff1414"]},"legend":{"title":null,"orient":"none","legendX":214,"legendY":95,"symbolType":"M-1,0H-0.44M0.44,0H1M0.44,0A0.44,0.44,0,1,1,-0.44,0A0.44,0.44,0,1,1,0.44,0Z","symbolSize":324,"labelFontSize":14,"labelOffset":8,"rowPadding":26}}}},
   {"data":{"values":[{"note":"ns, p=0,0942"}]},"mark":{"type":"text","align":"left","baseline":"middle","fontSize":14,"fontStyle":"italic","fontWeight":"bold","color":"#2e9a22"},
    "encoding":{"x":{"datum":144,"type":"quantitative"},"y":{"datum":144,"type":"quantitative"},"text":{"field":"note","type":"nominal"}}},
   {"data":{"values":[{"note":"**p=0,0077"}]},"mark":{"type":"text","align":"left","baseline":"middle","fontSize":14,"fontStyle":"italic","fontWeight":"bold","color":"#ff1a1a"},
    "encoding":{"x":{"datum":144,"type":"quantitative"},"y":{"datum":103,"type":"quantitative"},"text":{"field":"note","type":"nominal"}}}
  ]}
],"spacing":133,"bounds":"flush","resolve":{"scale":{"fill":"independent","stroke":"independent"},"legend":{"fill":"independent","stroke":"independent"}}},
{"hconcat":[
 {"vconcat":[
  {"width":317,"height":216,
   "title":{"text":"Cross-clamp vs Chest Tube 24h","fontSize":18,"offset":12},
   "layer":[
    {"data":{"name":"fits"},"transform":[{"filter":"datum.panel === 'chest_all'"}],"mark":{"type":"line","color":"black","strokeWidth":2.2},
     "encoding":{
      "x":{"field":"clamp","type":"quantitative","scale":{"domain":[0,210],"nice":false,"zero":false},"axis":{"values":[0,50,100,150,200],"title":"Cross-clamp time (min)","labelFontSize":14,"titleFontSize":15,"tickSize":7,"tickWidth":2,"domainWidth":2.5,"labelPadding":4,"titlePadding":12}},
      "y":{"field":"value","type":"quantitative","scale":{"domain":[0,4000],"nice":false},"axis":{"values":[0,1000,2000,3000,4000],"format":"d","title":"Chest tube 24h (mL)","labelFontSize":15,"titleFontSize":15,"tickSize":7,"tickWidth":2,"domainWidth":2.5,"labelPadding":2,"titlePadding":6}}}},
    {"data":{"name":"chest"},"mark":{"type":"point","filled":false,"color":"black","strokeWidth":1.6,"size":75,"opacity":1},
     "encoding":{"x":{"field":"clamp","type":"quantitative"},"y":{"field":"value","type":"quantitative"}}},
    {"data":{"values":[{"note":"** p = 0,0015"}]},"mark":{"type":"text","align":"left","baseline":"middle","fontSize":19.5,"fontStyle":"italic","color":"#333333"},
     "encoding":{"x":{"datum":144,"type":"quantitative"},"y":{"datum":796,"type":"quantitative"},"text":{"field":"note","type":"nominal"}}}
   ]},
  {"width":292,"height":225,
   "title":{"text":"Cross-clamp vs Chest Tube 24h","fontSize":14.5,"offset":20},
   "layer":[
    {"data":{"name":"fits"},"transform":[{"filter":"datum.panel === 'chest_age'"}],"mark":{"type":"line","strokeWidth":2},
     "encoding":{
      "x":{"field":"clamp","type":"quantitative","scale":{"domain":[0,206],"nice":false,"zero":false},"axis":{"values":[0,50,100,150,200],"title":"Cross-clamp time (min)","labelFontSize":12,"titleFontSize":13.5,"tickSize":6,"tickWidth":1.5,"domainWidth":2,"labelPadding":3,"titlePadding":8}},
      "y":{"field":"value","type":"quantitative","scale":{"domain":[0,4000],"nice":false},"axis":{"values":[0,1000,2000,3000,4000],"format":"d","title":"Chest tube 24h (mL)","labelFontSize":12.5,"titleFontSize":13.5,"tickSize":6,"tickWidth":1.5,"domainWidth":2,"labelPadding":2,"titlePadding":6}},
      "stroke":{"field":"group","type":"nominal","scale":{"domain":["60-69 years old","≥ 80 years old"],"range":["#118811","#ff1414"]},"legend":{"title":null,"orient":"none","legendX":187,"legendY":6,"symbolType":"M-1,0H-0.43M0.43,0H1M0.43,0A0.43,0.43,0,1,1,-0.43,0A0.43,0.43,0,1,1,0.43,0Z","symbolSize":441,"labelFontSize":16.5,"labelOffset":9,"rowPadding":26}}}},
    {"data":{"name":"chest"},"transform":[{"filter":{"field":"group","oneOf":["60-69 years old","≥ 80 years old"]}}],"mark":{"type":"point","filled":true,"stroke":"black","strokeWidth":1,"size":55,"opacity":1},
     "encoding":{"x":{"field":"clamp","type":"quantitative"},"y":{"field":"value","type":"quantitative"},
      "fill":{"field":"group","type":"nominal","scale":{"domain":["60-69 years old","≥ 80 years old"],"range":["#118811","#ff1414"]},"legend":{"title":null,"orient":"none","legendX":187,"legendY":6,"symbolType":"M-1,0H-0.43M0.43,0H1M0.43,0A0.43,0.43,0,1,1,-0.43,0A0.43,0.43,0,1,1,0.43,0Z","symbolSize":441,"labelFontSize":16.5,"labelOffset":9,"rowPadding":26}}}},
    {"data":{"values":[{"note":"**p=0,0063"}]},"mark":{"type":"text","align":"left","baseline":"middle","fontSize":16,"fontStyle":"italic","fontWeight":"bold","color":"#2e9a22"},
     "encoding":{"x":{"datum":155,"type":"quantitative"},"y":{"datum":3348,"type":"quantitative"},"text":{"field":"note","type":"nominal"}}},
    {"data":{"values":[{"note":"*p=0,0395"}]},"mark":{"type":"text","align":"left","baseline":"middle","fontSize":16,"fontStyle":"italic","fontWeight":"bold","color":"#ff1a1a"},
     "encoding":{"x":{"datum":155,"type":"quantitative"},"y":{"datum":2548,"type":"quantitative"},"text":{"field":"note","type":"nominal"}}}
   ]}
 ],"spacing":189,"bounds":"flush","resolve":{"scale":{"fill":"independent","stroke":"independent"},"legend":{"fill":"independent","stroke":"independent"}}},
 {"vconcat":[
  {"width":316,"height":216,
   "title":{"text":"Cross-clamp vs ICU Length Stay","fontSize":18,"offset":12},
   "layer":[
    {"data":{"name":"fits"},"transform":[{"filter":"datum.panel === 'icu_all'"}],"mark":{"type":"line","color":"black","strokeWidth":2.2},
     "encoding":{
      "x":{"field":"clamp","type":"quantitative","scale":{"domain":[0,210],"nice":false,"zero":false},"axis":{"values":[0,50,100,150,200],"title":"Cross-clamp time (min)","labelFontSize":14,"titleFontSize":15,"tickSize":7,"tickWidth":2,"domainWidth":2.5,"labelPadding":4,"titlePadding":14}},
      "y":{"field":"value","type":"quantitative","scale":{"domain":[0,600],"nice":false},"axis":{"values":[0,200,400,600],"title":"ICU Length Stay (hours)","labelFontSize":15,"titleFontSize":15,"tickSize":7,"tickWidth":2,"domainWidth":2.5,"labelPadding":2,"titlePadding":10}}}},
    {"data":{"name":"icu"},"mark":{"type":"point","filled":false,"color":"black","strokeWidth":1.6,"size":75,"opacity":1},
     "encoding":{"x":{"field":"clamp","type":"quantitative"},"y":{"field":"value","type":"quantitative"}}},
    {"data":{"values":[{"note":"ns, p = 0,0950"}]},"mark":{"type":"text","align":"left","baseline":"middle","fontSize":19.5,"fontStyle":"italic","color":"#333333"},
     "encoding":{"x":{"datum":134,"type":"quantitative"},"y":{"datum":272,"type":"quantitative"},"text":{"field":"note","type":"nominal"}}}
   ]},
  {"width":297,"height":278,
   "title":{"text":"Cross-clamp vs ICU Length Stay","fontSize":16,"offset":16},
   "layer":[
    {"data":{"name":"fits"},"transform":[{"filter":"datum.panel === 'icu_age'"}],"mark":{"type":"line","strokeWidth":2},
     "encoding":{
      "x":{"field":"clamp","type":"quantitative","scale":{"domain":[0,250],"nice":false,"zero":false},"axis":{"values":[0,50,100,150,200,250],"title":"Cross-clamp time (min)","labelFontSize":13,"titleFontSize":15,"tickSize":6,"tickWidth":1.5,"domainWidth":2,"labelPadding":3,"titlePadding":9}},
      "y":{"field":"value","type":"quantitative","scale":{"domain":[0,600],"nice":false},"axis":{"values":[0,200,400,600],"title":"ICU Length Stay (hours)","labelFontSize":13,"titleFontSize":15,"tickSize":6,"tickWidth":1.5,"domainWidth":2,"labelPadding":2,"titlePadding":8}},
      "stroke":{"field":"group","type":"nominal","scale":{"domain":["60-69 years old","≥ 80 years old"],"range":["#118811","#ff1414"]},"legend":{"title":null,"orient":"none","legendX":181,"legendY":60,"symbolType":"M-1,0H-0.4M0.4,0H1M0.4,0A0.4,0.4,0,1,1,-0.4,0A0.4,0.4,0,1,1,0.4,0Z","symbolSize":625,"labelFontSize":18.4,"labelOffset":8,"rowPadding":24}}}},
    {"data":{"name":"icu"},"transform":[{"filter":{"field":"group","oneOf":["60-69 years old","≥ 80 years old"]}}],"mark":{"type":"point","filled":true,"stroke":"black","strokeWidth":1,"size":68,"opacity":1},
     "encoding":{"x":{"field":"clamp","type":"quantitative"},"y":{"field":"value","type":"quantitative"},
      "fill":{"field":"group","type":"nominal","scale":{"domain":["60-69 years old","≥ 80 years old"],"range":["#118811","#ff1414"]},"legend":{"title":null,"orient":"none","legendX":181,"legendY":60,"symbolType":"M-1,0H-0.4M0.4,0H1M0.4,0A0.4,0.4,0,1,1,-0.4,0A0.4,0.4,0,1,1,0.4,0Z","symbolSize":625,"labelFontSize":18.4,"labelOffset":8,"rowPadding":24}}}},
    {"data":{"values":[{"note":"ns, p=0,3801"}]},"mark":{"type":"text","align":"left","baseline":"middle","fontSize":18,"fontStyle":"italic","fontWeight":"bold","color":"#2e9a22"},
     "encoding":{"x":{"datum":178,"type":"quantitative"},"y":{"datum":400,"type":"quantitative"},"text":{"field":"note","type":"nominal"}}},
    {"data":{"values":[{"note":"*p=0,0493"}]},"mark":{"type":"text","align":"left","baseline":"middle","fontSize":18,"fontStyle":"italic","fontWeight":"bold","color":"#ff1a1a"},
     "encoding":{"x":{"datum":180,"type":"quantitative"},"y":{"datum":297,"type":"quantitative"},"text":{"field":"note","type":"nominal"}}}
   ]}
 ],"spacing":152,"bounds":"flush","resolve":{"scale":{"fill":"independent","stroke":"independent"},"legend":{"fill":"independent","stroke":"independent"}}}
],"spacing":55,"bounds":"full","resolve":{"scale":{"fill":"independent","stroke":"independent"},"legend":{"fill":"independent","stroke":"independent"}}}
]
}
